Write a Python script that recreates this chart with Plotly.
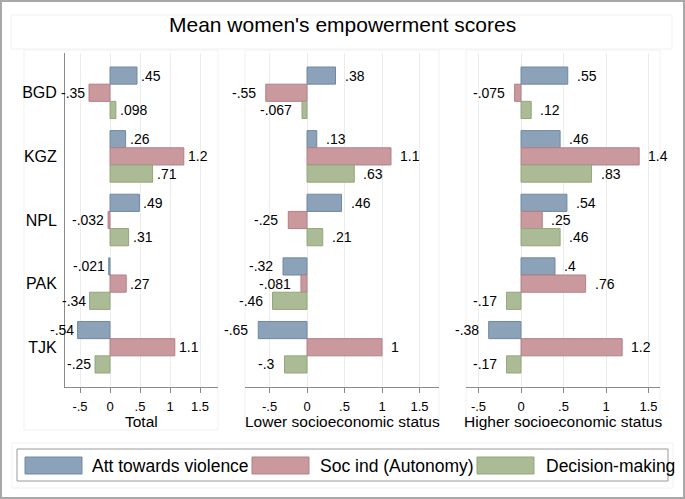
import plotly.graph_objects as go

# ---------------- data ----------------
countries = ["BGD", "KGZ", "NPL", "PAK", "TJK"]
series_names = ["Att towards violence", "Soc ind (Autonomy)", "Decision-making"]
panel_titles = ["Total", "Lower socioeconomic status", "Higher socioeconomic status"]

total_att = [0.45, 0.26, 0.49, -0.021, -0.54]
total_soc = [-0.35, 1.23, -0.032, 0.27, 1.08]
total_dec = [0.098, 0.71, 0.31, -0.34, -0.25]

lower_att = [0.38, 0.13, 0.46, -0.32, -0.65]
lower_soc = [-0.55, 1.12, -0.25, -0.081, 1.0]
lower_dec = [-0.067, 0.63, 0.21, -0.46, -0.30]

higher_att = [0.55, 0.46, 0.54, 0.40, -0.38]
higher_soc = [-0.075, 1.39, 0.25, 0.76, 1.19]
higher_dec = [0.12, 0.83, 0.46, -0.17, -0.17]

tick_vals = [-0.5, 0, 0.5, 1, 1.5]
tick_text = ["-.5", "0", ".5", "1", "1.5"]

panels = [
    [total_att, total_soc, total_dec],
    [lower_att, lower_soc, lower_dec],
    [higher_att, higher_soc, higher_dec],
]

# ---------------- style ----------------
W, H = 685, 499
FONT = "Liberation Sans, Arial, Helvetica, sans-serif"
fills = ["#8CA2B9", "#C9999E", "#ABBB95"]
edges = ["#6F88A2", "#B47F86", "#93A67C"]
panel_px = [(65, 218), (245, 439), (466, 660)]
x_ranges = [[-0.75, 1.80], [-0.827, 1.76], [-0.647, 1.635]]
plot_top, plot_bot = 53, 387
bar_w = 0.27
label_gap_pos = [2, 7, 7]
label_gap_neg = [2, 8, 8]
AXIS_C = "#8a8a8a"
GRID_C = "#ececec"


def px_x(p):
    return p / W


def px_y(p):
    return 1 - p / H


def fmt(v):
    s = f"{v:.2g}"
    if s.startswith("0."):
        s = s[1:]
    elif s.startswith("-0."):
        s = "-" + s[2:]
    return s


fig = go.Figure()
annotations = []
shapes = []
layout_axes = {}

for p, series in enumerate(panels):
    sfx = "" if p == 0 else str(p + 1)
    xa, ya = "x" + sfx, "y" + sfx
    for k, vals in enumerate(series):
        fig.add_trace(go.Bar(
            x=vals, y=list(range(len(countries))), orientation="h",
            name=series_names[k], xaxis=xa, yaxis=ya,
            width=bar_w, offset=(k - 1.5) * bar_w,
            marker=dict(color=fills[k], line=dict(color=edges[k], width=1)),
            showlegend=False, hoverinfo="skip",
        ))
        for i, v in enumerate(vals):
            pos = v >= 0
            annotations.append(dict(
                x=v, y=i + (k - 1) * bar_w, xref=xa, yref=ya,
                text=fmt(v), showarrow=False,
                xanchor="left" if pos else "right", yanchor="middle",
                xshift=label_gap_pos[p] if pos else -label_gap_neg[p],
                font=dict(family=FONT, size=14, color="black"),
            ))
    x0, x1 = panel_px[p]
    layout_axes["xaxis" + sfx] = dict(
        domain=[px_x(x0), px_x(x1)], range=x_ranges[p], anchor=ya,
        tickvals=tick_vals, ticktext=tick_text, ticks="outside", ticklen=5,
        tickcolor=AXIS_C, showline=True, linecolor=AXIS_C, linewidth=1,
        showgrid=True, gridcolor=GRID_C, gridwidth=1, zeroline=False,
        tickfont=dict(family=FONT, size=13, color="black"),
        ticklabelstandoff=2, fixedrange=True,
    )
    layout_axes["yaxis" + sfx] = dict(
        domain=[px_y(plot_bot), px_y(plot_top)], range=[4.625, -0.625],
        anchor=xa, tickvals=list(range(len(countries))), ticktext=countries,
        showticklabels=(p == 0), ticks="", showline=(p == 0),
        linecolor=AXIS_C, linewidth=1, showgrid=False, zeroline=False,
        tickfont=dict(family=FONT, size=16, color="black"),
        ticklabelstandoff=4, fixedrange=True,
    )
    # axis title
    annotations.append(dict(
        x=px_x((x0 + x1) / 2), y=px_y(421), xref="paper", yref="paper",
        text=panel_titles[p], showarrow=False, xanchor="center", yanchor="middle",
        font=dict(family=FONT, size=15.5, color="black"),
    ))

# faint subgraph regions
for (rx0, rx1) in [(24, 218), (245, 439), (466, 660)]:
    shapes.append(dict(type="rect", xref="paper", yref="paper",
                       x0=px_x(rx0), x1=px_x(rx1), y0=px_y(430), y1=px_y(50),
                       line=dict(color="#f1f1f1", width=1), layer="below"))
shapes.append(dict(type="rect", xref="paper", yref="paper",
                   x0=px_x(11), x1=px_x(672), y0=px_y(49), y1=px_y(15),
                   line=dict(color="#f1f1f1", width=1), layer="below"))
shapes.append(dict(type="rect", xref="paper", yref="paper",
                   x0=px_x(12), x1=px_x(673), y0=px_y(488), y1=px_y(443),
                   line=dict(color="#f1f1f1", width=1), layer="below"))

# title
annotations.append(dict(
    x=0.5, y=px_y(24), xref="paper", yref="paper",
    text="Mean women's empowerment scores", showarrow=False,
    xanchor="center", yanchor="middle",
    font=dict(family=FONT, size=21, color="black"),
))

# legend (drawn manually)
shapes.append(dict(type="rect", xref="paper", yref="paper",
                   x0=px_x(17), x1=px_x(668), y0=px_y(481), y1=px_y(449),
                   line=dict(color="#9a9a9a", width=1), fillcolor="white"))
key_x = [25, 252, 477]
text_x = [90, 318, 544]
for k in range(3):
    shapes.append(dict(type="rect", xref="paper", yref="paper",
                       x0=px_x(key_x[k]), x1=px_x(key_x[k] + 57),
                       y0=px_y(474), y1=px_y(457),
                       line=dict(color=edges[k], width=1), fillcolor=fills[k]))
    annotations.append(dict(
        x=px_x(text_x[k]), y=px_y(465.5), xref="paper", yref="paper",
        text=series_names[k], showarrow=False, xanchor="left", yanchor="middle",
        font=dict(family=FONT, size=17.5, color="black"),
    ))

# outer frame
shapes.append(dict(type="rect", xref="paper", yref="paper",
                   x0=px_x(1), x1=px_x(684), y0=px_y(498), y1=px_y(1),
                   line=dict(color="#a8a8a8", width=2)))

fig.update_layout(
    width=W, height=H, margin=dict(l=0, r=0, t=0, b=0),
    paper_bgcolor="white", plot_bgcolor="white",
    showlegend=False, annotations=annotations, shapes=shapes,
    **layout_axes,
)

fig.write_html(
    "out.html",
    config={"displayModeBar": False},
    post_script="document.body.style.margin='0';document.body.style.overflow='hidden';",
)
